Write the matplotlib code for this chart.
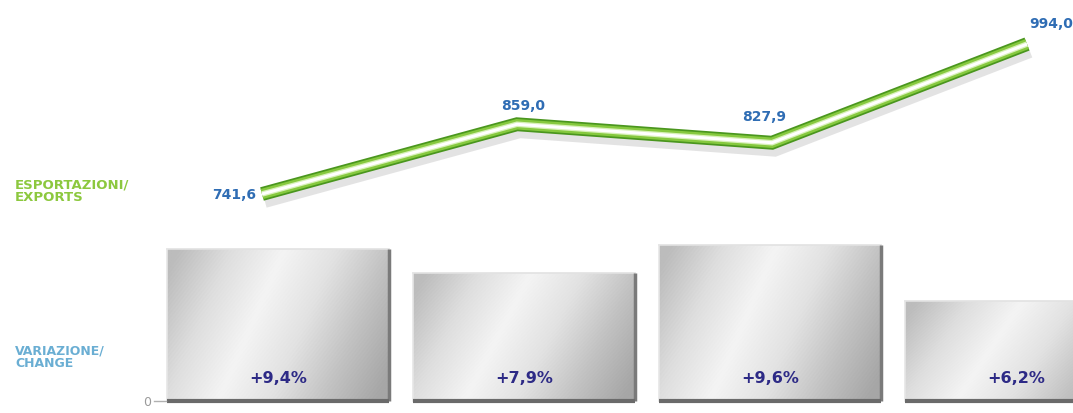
import matplotlib.pyplot as plt
import matplotlib.patheffects as pe
from matplotlib.colors import LinearSegmentedColormap
from matplotlib.lines import Line2D
import numpy as np

# values
exports = [741.6, 859.0, 827.9, 994.0]
export_labels = ['741,6', '859,0', '827,9', '994,0']
changes = [9.4, 7.9, 9.6, 6.2]
change_labels = ['+9,4%', '+7,9%', '+9,6%', '+6,2%']

W, H = 1073, 414
fig = plt.figure(figsize=(W / 100, H / 100), dpi=100)
fig.patch.set_facecolor('white')

# --- bars (variazione / change) ---
ax = fig.add_axes([0, 0, 1, 1])
ax.axis('off')
xb = np.arange(len(changes))

steel = LinearSegmentedColormap.from_list(
    'steel', ['#bcbcbc', '#dedede', '#f4f4f4', '#e2e2e2', '#c2c2c2', '#a6a6a6'])
gx, gy = np.meshgrid(np.linspace(0, 1, 300), np.linspace(0, 1, 150))
grad = gx + 0.3 * (gy - 0.5)
grad = grad + 0.012 * np.sin(2 * np.pi * 60 * (gx + 0.55 * gy))  # brushed look

bars = ax.bar(xb, changes, width=0.9, color='none', edgecolor='none')
for b, lab in zip(bars, change_labels):
    x0, x1 = b.get_x(), b.get_x() + b.get_width()
    h = b.get_height()
    im = ax.imshow(grad, cmap=steel, extent=[x0, x1, 0, h], aspect='auto',
                   vmin=-0.1, vmax=1.1, zorder=1, interpolation='bilinear')
    im.set_clip_path(b)
    ax.plot([x0, x1], [h, h], color='#e2e2e2', lw=1.2, zorder=2)
    ax.plot([x0, x0], [0, h], color='#e6e6e6', lw=1.2, zorder=2)
    ax.plot([x1, x1], [0, h], color='#7a7a7a', lw=2.5, zorder=2,
            solid_capstyle='butt')
    ax.plot([x0, x1], [0, 0], color='#6a6a6a', lw=3, zorder=2,
            solid_capstyle='butt')
    ax.text(b.get_x() + b.get_width() / 2, 1.42, lab, ha='center', va='center',
            color='#2d2a86', fontsize=11.5, fontweight='bold', zorder=3)

ax.set_xlim(-278 / 246, (W - 278) / 246)
ax.set_ylim(-12 / 16.2, (H - 12) / 16.2)

# --- line (esportazioni / exports) ---
ax2 = fig.add_axes([0, 0, 1, 1])
ax2.patch.set_alpha(0)
ax2.axis('off')
xl = np.arange(len(exports))
ax2.plot(xl, exports, color='#4a961e', lw=10, solid_joinstyle='miter',
         solid_capstyle='butt',
         path_effects=[pe.SimpleLineShadow(offset=(2, -5), shadow_color='#666666',
                                           alpha=0.18, rho=1), pe.Normal()])
ax2.plot(xl, exports, color='#86c93f', lw=7.5, solid_joinstyle='miter',
         solid_capstyle='butt')
ax2.plot(xl, exports, color='#d8f0b8', lw=4, solid_joinstyle='miter',
         solid_capstyle='butt')
ax2.plot(xl, exports, color='white', lw=2.2, solid_joinstyle='miter',
         solid_capstyle='butt')

offsets = [(-6, 0, 'right'), (6, 19, 'center'), (-8, 27, 'center'), (24, 21, 'center')]
for xv, yv, lab, (dx, dy, ha) in zip(xl, exports, export_labels, offsets):
    ax2.annotate(lab, (xv, yv), xytext=(dx, dy), textcoords='offset pixels',
                 ha=ha, va='center', color='#2f6db4', fontsize=10,
                 fontweight='bold')

ax2.set_xlim(-262 / 255, (W - 262) / 255)
ax2.set_ylim(741.6 - 219 / 0.594, 741.6 + 195 / 0.594)

# --- left labels and zero mark ---
fig.text(15 / W, 1 - 191 / H, 'ESPORTAZIONI/\nEXPORTS', color='#8cc83e',
         fontsize=9.5, fontweight='bold', va='center', ha='left', linespacing=1.0)
fig.text(15 / W, 1 - 357 / H, 'VARIAZIONE/\nCHANGE', color='#6aaed3',
         fontsize=9, fontweight='bold', va='center', ha='left', linespacing=1.0)
fig.text(147 / W, 1 - 403 / H, '0', color='#9a9a9a', fontsize=9,
         ha='center', va='center')
fig.add_artist(Line2D([154 / W, 166 / W], [1 - 402 / H, 1 - 402 / H],
                      color='#b0b0b0', lw=1))

fig.savefig('out.png', dpi=100, facecolor='white')
